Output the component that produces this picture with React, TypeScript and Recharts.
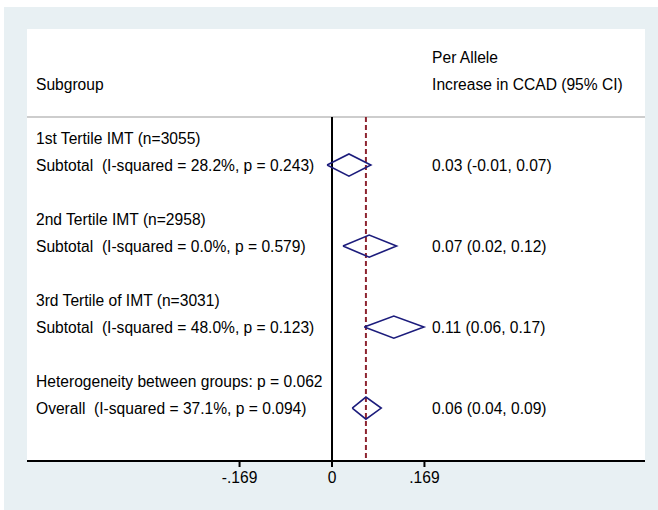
import { ComposedChart, XAxis, YAxis, Scatter, ReferenceLine, ReferenceArea } from 'recharts';

// rows are counted in text lines from the "Per Allele" header
const leftLabels = [
  'Subgroup',
  '1st Tertile IMT (n=3055)',
  'Subtotal  (I-squared = 28.2%, p = 0.243)',
  '2nd Tertile IMT (n=2958)',
  'Subtotal  (I-squared = 0.0%, p = 0.579)',
  '3rd Tertile of IMT (n=3031)',
  'Subtotal  (I-squared = 48.0%, p = 0.123)',
  'Heterogeneity between groups: p = 0.062',
  'Overall  (I-squared = 37.1%, p = 0.094)',
];
const leftRows = [1, 3, 4, 6, 7, 9, 10, 12, 13];

const rightLabels = [
  'Per Allele',
  'Increase in CCAD (95% CI)',
  '0.03 (-0.01, 0.07)',
  '0.07 (0.02, 0.12)',
  '0.11 (0.06, 0.17)',
  '0.06 (0.04, 0.09)',
];
const rightRows = [0, 1, 4, 7, 10, 13];

const estimates = [0.031, 0.068, 0.113, 0.062];
const lowers = [-0.009, 0.02, 0.059, 0.037];
const uppers = [0.071, 0.118, 0.168, 0.09];
const diamondRows = [4, 7, 10, 13];
const overallEffect = 0.062;

const xTicks = [-0.169, 0, 0.169];
const tickText = ['-.169', '0', '.169'];

const X_MIN = -0.5576;
const X_MAX = 0.5722;
const Y_MIN = -1.04;
const Y_MAX = 14.96;
const SEP_ROW = 2.22;
const HALF = 0.41;
const RIGHT_COL = 0.183;

const FONT = '"Liberation Sans", Arial, Helvetica, sans-serif';
const FONT_SIZE = 15.6;
const NAVY = '#1c1c7c';

const leftData = leftLabels.map((t, i) => ({ x: X_MIN, y: leftRows[i], text: t }));
const rightData = rightLabels.map((t, i) => ({ x: RIGHT_COL, y: rightRows[i], text: t }));

const diamonds = estimates.map((est, i) => {
  const r = diamondRows[i];
  return [
    { x: lowers[i], y: r },
    { x: est, y: r - HALF },
    { x: uppers[i], y: r },
    { x: est, y: r + HALF },
    { x: lowers[i], y: r },
  ];
});

const textShape = (dx: number) => (props: any) => (
  <text
    x={props.cx + dx}
    y={props.cy}
    dominantBaseline="central"
    fontFamily={FONT}
    fontSize={FONT_SIZE}
    fill="#000"
    style={{ whiteSpace: 'pre' }}
  >
    {props.payload.text}
  </text>
);

const noPoint = () => <g />;

export default function App() {
  return (
    <div style={{ position: 'absolute', left: 0, top: 0, width: 658, height: 510, background: '#fff' }}>
      <div style={{ position: 'absolute', left: 4, top: 7, width: 654, height: 503, background: '#e8f0f3' }} />
      <div style={{ position: 'absolute', left: 0, top: 0 }}>
        <ComposedChart width={658} height={510} margin={{ top: 29, left: 27, right: 13, bottom: 0 }}>
          <XAxis
            type="number"
            dataKey="x"
            domain={[X_MIN, X_MAX]}
            ticks={xTicks}
            allowDataOverflow
            tickFormatter={(v: number) => tickText[xTicks.indexOf(v)] ?? String(v)}
            axisLine={{ stroke: '#000', strokeWidth: 2 }}
            tickLine={{ stroke: '#000', strokeWidth: 2 }}
            tickSize={6}
            tickMargin={5}
            tick={{ fill: '#000', fontSize: FONT_SIZE, fontFamily: FONT }}
            height={49}
          />
          <YAxis type="number" dataKey="y" domain={[Y_MIN, Y_MAX]} reversed hide allowDataOverflow />
          <ReferenceArea x1={X_MIN} x2={X_MAX} y1={Y_MIN} y2={Y_MAX} fill="#fff" fillOpacity={1} stroke="none" />
          <ReferenceLine
            segment={[{ x: X_MIN, y: SEP_ROW }, { x: X_MAX, y: SEP_ROW }]}
            stroke="#bdbdbd"
            strokeWidth={1.5}
          />
          <ReferenceLine
            segment={[{ x: 0, y: SEP_ROW }, { x: 0, y: Y_MAX }]}
            stroke="#000"
            strokeWidth={2}
          />
          <ReferenceLine
            segment={[{ x: overallEffect, y: SEP_ROW }, { x: overallEffect, y: Y_MAX }]}
            stroke="#8e2430"
            strokeWidth={2}
            strokeDasharray="5 3"
          />
          {diamonds.map((d, i) => (
            <Scatter
              key={i}
              data={d}
              line={{ stroke: NAVY, strokeWidth: 1.6 }}
              shape={noPoint}
              isAnimationActive={false}
            />
          ))}
          <Scatter data={leftData} shape={textShape(9)} isAnimationActive={false} />
          <Scatter data={rightData} shape={textShape(0)} isAnimationActive={false} />
        </ComposedChart>
      </div>
    </div>
  );
}
